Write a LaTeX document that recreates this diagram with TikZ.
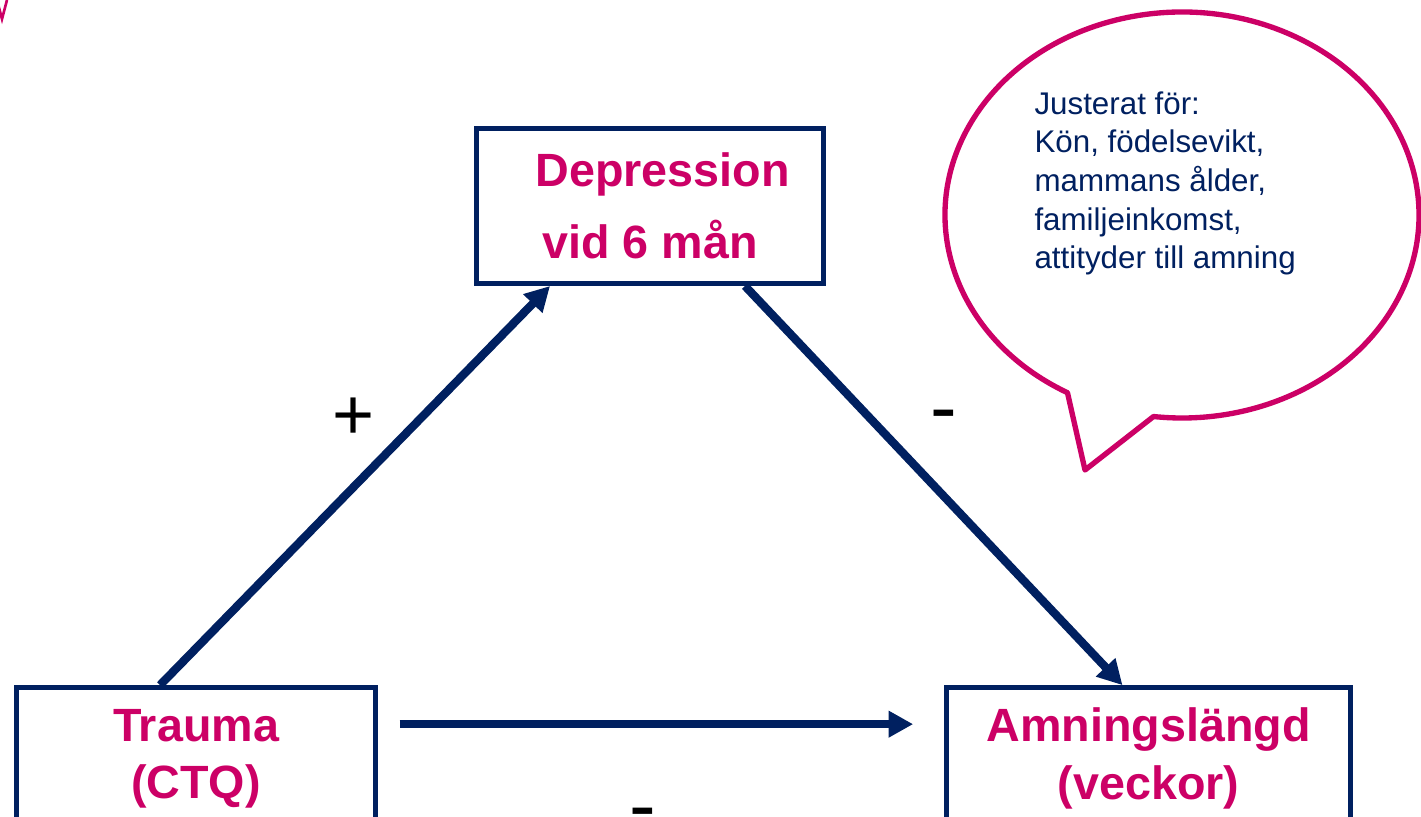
\documentclass[tikz,border=0pt]{standalone}
\usepackage{fontspec}
\setmainfont{Liberation Sans}
\usetikzlibrary{arrows.meta,calc}
\definecolor{navy}{RGB}{0,32,96}
\definecolor{rose}{RGB}{204,0,102}
\tikzset{every picture/.style={line width=0.75pt}}

\begin{document}
\begin{tikzpicture}[x=0.75pt,y=0.75pt,yscale=-1,xscale=1,
	box/.style={draw=navy, line width=3.5pt, fill=white, text=rose, align=center, inner sep=0pt,
		font=\fontsize{35}{54}\selectfont\bfseries},
	lowbox/.style={box, minimum height=106.5pt, font=\fontsize{35}{43}\selectfont\bfseries},
	conn/.style={draw=navy, line width=6.25pt, -{Triangle[length=18.5pt,width=19pt]}},
	sign/.style={text=black, inner sep=0pt, anchor=base}]
	\clip (0,0) rectangle (1421,817); %set diagram size 1421 x 817

	%Straight Lines [id:corner]
	\draw [color=rose, line width=2pt] (-2,4) -- (2,19) -- (7,0) ;

	%Shape: Rectangle [id:depr]
	\node [box, minimum width=260.5pt, minimum height=116.5pt] (depr) at (650,206) {\hspace*{19pt}Depression\\vid 6 mån};
	%Shape: Rectangle [id:trauma]
	\node [lowbox, minimum width=269pt] (trauma) at (196,758.5) {Trauma\\(CTQ)};
	%Shape: Rectangle [id:amn]
	\node [lowbox, minimum width=303pt] (amn) at (1148.5,758.5) {Amningslängd\\(veckor)};

	%Shape: Callout [id:bubble]
	\coordinate (bub) at (1182,215);
	\coordinate (tip) at (1085,470);
	\draw [color=rose, line width=4pt, fill=white, line join=round] (bub) ++(118.9:237 and 203) arc [start angle=118.9, end angle=456.9, x radius=237, y radius=203] -- (tip) -- cycle ;

	%Straight Lines [id:up]
	\draw [conn] ($(trauma.north)+(-36,0)$) -- ($(depr.south)+(-100,0)$) ;
	%Straight Lines [id:down]
	\draw [conn] ($(depr.south)+(95,0)$) -- ($(amn.north)+(-26,0)$) ;
	%Straight Lines [id:direct]
	\draw [conn] ($(trauma.north east)+(22,39)$) -- ($(amn.north west)+(-31,39)$) ;

	% Text Node
	\node [anchor=north west, inner sep=0pt, text=navy, align=left, font=\fontsize{23.5}{29}\selectfont] (adj) at (1034,91) {Justerat för:\\Kön, födelsevikt,\\mammans ålder,\\familjeinkomst,\\attityder till amning};
	% Text Node
	\node [sign, font=\fontsize{54}{54}\selectfont] (plus) at (354,439) {+};
	% Text Node
	\node [sign, font=\fontsize{60}{60}\selectfont] (minusa) at (944,434) {-};
	% Text Node
	\node [sign, font=\fontsize{60}{60}\selectfont] (minusb) at (643,810) {\smash{\raisebox{-0.283em}{-}}};

\end{tikzpicture}
\end{document}
